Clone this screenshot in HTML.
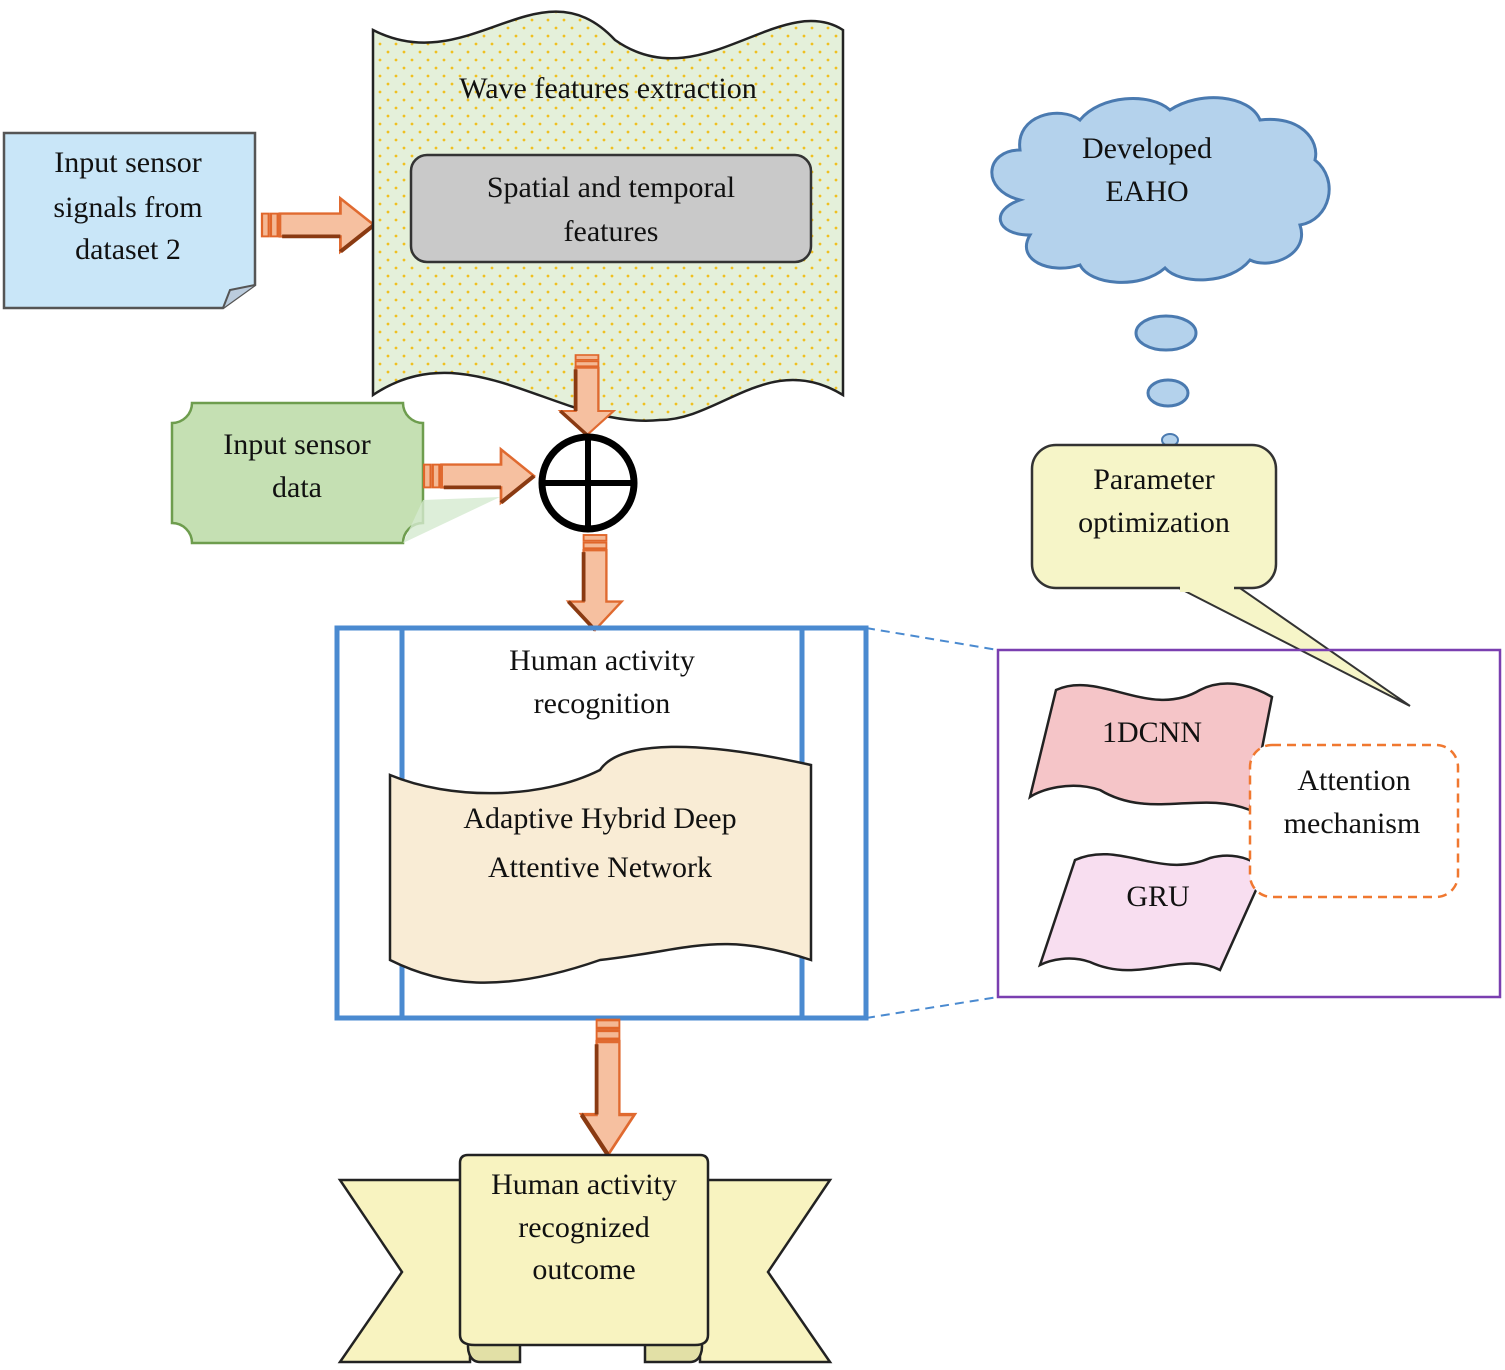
<!DOCTYPE html>
<html><head><style>body{margin:0;background:#fff}svg{display:block}text{font-family:"Liberation Serif",serif;font-size:30px;fill:#111;text-anchor:middle}</style></head><body>
<svg width="1505" height="1370" viewBox="0 0 1505 1370" xmlns="http://www.w3.org/2000/svg">
<defs>
<pattern id="dots" width="16" height="16" patternUnits="userSpaceOnUse"><rect width="16" height="16" fill="#e4f0da"/><circle cx="4" cy="4" r="1.4" fill="#f0c020"/><circle cx="12" cy="12" r="1.4" fill="#f0c020"/></pattern>
<g id="arrR"><rect x="0" y="-12" width="6" height="24" fill="#f4b894" stroke="#e0662a" stroke-width="2"/><rect x="8" y="-12" width="6" height="24" fill="#f4b894" stroke="#e0662a" stroke-width="2"/><path d="M16,-12 H70 V-28 L100,0 L70,28 V12 H16Z" fill="#f6c0a0" stroke="#e06a30" stroke-width="2.5"/><path d="M70,12 H18 M70,28 L100,0" stroke="#8a3a12" stroke-width="4" fill="none"/></g>
</defs>
<!-- input sensor signals -->
<path d="M4,133 H255 V285 L223,308 H4Z" fill="#c9e6f8" stroke="#555" stroke-width="2.5"/>
<path d="M223,308 L230,290 L255,285" fill="#bcd" stroke="#555" stroke-width="2"/>
<text x="128" y="172">Input sensor</text><text x="128" y="217">signals from</text><text x="128" y="259">dataset 2</text>
<use href="#arrR" transform="translate(262,225) scale(1.12,0.95)"/>
<!-- wave features -->
<path d="M373,30 C470,80 540,-40 615,40 C700,100 780,-10 843,30 V395 C770,350 720,420 660,420 C560,430 470,330 373,395Z" fill="url(#dots)" stroke="#222" stroke-width="2.5"/>
<text x="608" y="98">Wave features extraction</text>
<rect x="411" y="155" width="400" height="107" rx="16" fill="#c9c9c9" stroke="#333" stroke-width="2.5"/>
<text x="611" y="197">Spatial and temporal</text><text x="611" y="241">features</text>
<!-- cloud -->
<path d="M1020,200 C980,190 985,150 1020,150 C1015,115 1060,105 1080,120 C1100,95 1150,92 1170,110 C1200,90 1250,95 1260,120 C1300,115 1320,140 1315,160 C1340,180 1330,220 1300,225 C1310,255 1270,270 1250,260 C1230,285 1180,285 1165,268 C1140,290 1090,285 1080,265 C1050,275 1015,260 1030,235 C995,235 990,210 1020,200Z" fill="#b4d2ec" stroke="#4a7ab0" stroke-width="3"/>
<text x="1147" y="158">Developed</text><text x="1147" y="201">EAHO</text>
<ellipse cx="1166" cy="333" rx="30" ry="17" fill="#b4d2ec" stroke="#4a7ab0" stroke-width="3"/>
<ellipse cx="1168" cy="393" rx="20" ry="13" fill="#b4d2ec" stroke="#4a7ab0" stroke-width="3"/>
<ellipse cx="1170" cy="440" rx="8" ry="6" fill="#b4d2ec" stroke="#4a7ab0" stroke-width="2"/>
<!-- param -->
<path d="M1175,586 L1410,706 L1237,586Z" fill="#f6f5c8" stroke="#333" stroke-width="2"/>
<rect x="1032" y="445" width="244" height="143" rx="24" fill="#f6f5c8" stroke="#333" stroke-width="2.5"/>
<rect x="1180" y="580" width="54" height="12" fill="#f6f5c8"/>
<text x="1154" y="489">Parameter</text><text x="1154" y="532">optimization</text>
<!-- green -->
<path d="M192,403 H403 A20,20 0 0 0 423,423 V523 A20,20 0 0 0 403,543 H192 A20,20 0 0 0 172,523 V423 A20,20 0 0 0 192,403Z" fill="#c5e0b3" stroke="#6e9d4e" stroke-width="2.5"/>
<path d="M423,500 L500,497 L403,543Z" fill="#d5ead0" opacity="0.8"/>
<text x="297" y="454">Input sensor</text><text x="297" y="497">data</text>
<use href="#arrR" transform="translate(424,476) scale(1.1,0.95)"/>
<use href="#arrR" transform="translate(587,355) rotate(90) scale(0.8,0.95)"/>
<use href="#arrR" transform="translate(595,535) rotate(90) scale(0.95,0.95)"/>
<circle cx="588" cy="483" r="46" fill="#fff" stroke="#000" stroke-width="7"/>
<path d="M588,437 V529 M542,483 H634" stroke="#000" stroke-width="6"/>
<!-- blue frame -->
<rect x="337" y="628" width="529" height="390" fill="none" stroke="#4a8ad0" stroke-width="5"/>
<path d="M402,628 V1018 M802,628 V1018" stroke="#4a8ad0" stroke-width="5"/>
<path d="M866,628 L998,650 M866,1018 L998,997" stroke="#4a8ad0" stroke-width="2" stroke-dasharray="9,6"/>
<text x="602" y="670">Human activity</text><text x="602" y="713">recognition</text>
<path d="M390,775 C450,800 540,800 600,770 C620,740 700,740 811,765 V960 C720,930 690,950 600,960 C500,995 440,985 390,960Z" fill="#f9ecd5" stroke="#222" stroke-width="2.5"/>
<text x="600" y="828">Adaptive Hybrid Deep</text><text x="600" y="877">Attentive Network</text>
<!-- purple -->
<rect x="998" y="650" width="502" height="347" fill="none" stroke="#7a3fb0" stroke-width="2.5"/>
<path d="M1056,690 C1100,670 1150,720 1200,690 C1230,675 1260,690 1272,697 L1250,810 C1200,790 1150,820 1100,790 C1070,780 1040,790 1030,797Z" fill="#f5c5c8" stroke="#222" stroke-width="2.5"/>
<text x="1152" y="742">1DCNN</text>
<path d="M1075,860 C1120,840 1160,880 1210,858 C1240,850 1260,865 1265,870 L1220,970 C1180,950 1140,985 1090,962 C1070,955 1050,960 1040,965Z" fill="#f8def0" stroke="#222" stroke-width="2.5"/>
<text x="1158" y="906">GRU</text>
<rect x="1250" y="745" width="208" height="152" rx="22" fill="#fff" stroke="#f07830" stroke-width="2.5" stroke-dasharray="9,6"/>
<text x="1354" y="790">Attention</text><text x="1352" y="833">mechanism</text>
<!-- bottom arrow -->
<use href="#arrR" transform="translate(608,1020) rotate(90) scale(1.35,0.95)"/>
<!-- banner -->
<path d="M340,1180 H470 V1362 H340 L402,1272Z" fill="#f8f3c0" stroke="#222" stroke-width="2.5"/>
<path d="M830,1180 H700 V1362 H830 L768,1272Z" fill="#f8f3c0" stroke="#222" stroke-width="2.5"/>
<path d="M470,1336 C465,1350 470,1362 480,1362 H520 V1340Z M700,1336 C705,1350 700,1362 690,1362 H645 V1340Z" fill="#e2e0a6" stroke="#222" stroke-width="2.5"/>
<path d="M468,1155 H700 Q708,1155 708,1163 V1335 Q708,1345 695,1345 H475 Q460,1345 460,1335 V1163 Q460,1155 468,1155Z" fill="#f8f3c0" stroke="#222" stroke-width="2.5"/>
<text x="584" y="1194">Human activity</text><text x="584" y="1237">recognized</text><text x="584" y="1279">outcome</text>
</svg>
</body></html>
